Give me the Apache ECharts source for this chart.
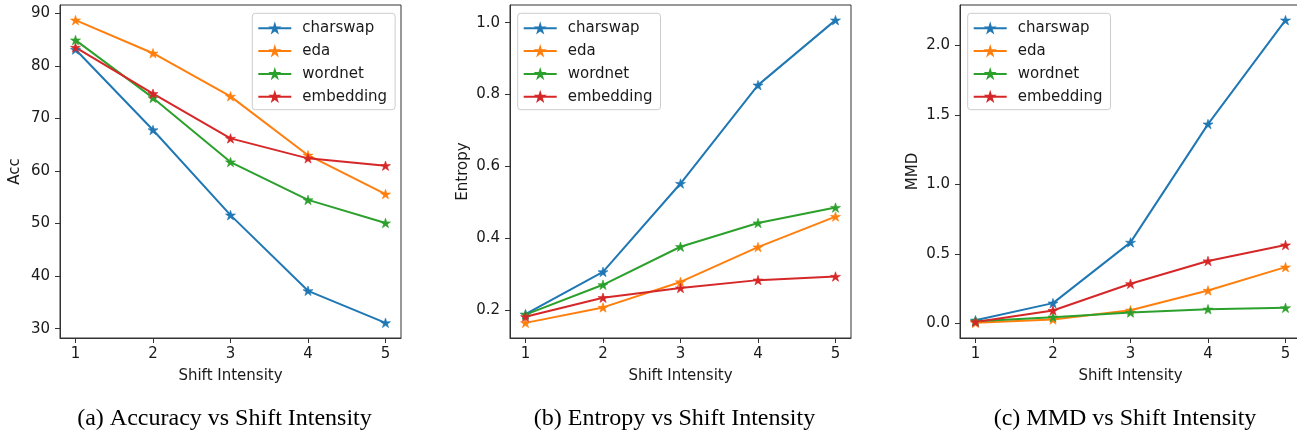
<!DOCTYPE html>
<html>
<head>
<meta charset="utf-8">
<script src="https://cdn.jsdelivr.net/npm/echarts@6/dist/echarts.min.js"></script>
<style>
html,body{margin:0;padding:0;background:#fff;}
#main{width:1297px;height:434px;}
</style>
</head>
<body>
<div id="main"></div>
<script>
// ---- data ----
const shiftIntensity = [1, 2, 3, 4, 5];
const methods = ['charswap', 'eda', 'wordnet', 'embedding'];

const accCharswap  = [83.1, 67.8, 51.6, 37.2, 31.1];
const accEda       = [88.7, 82.4, 74.2, 63.0, 55.6];
const accWordnet   = [84.9, 73.9, 61.7, 54.5, 50.1];
const accEmbedding = [83.5, 74.7, 66.2, 62.4, 61.0];

const entCharswap  = [0.188, 0.306, 0.552, 0.826, 1.007];
const entEda       = [0.164, 0.207, 0.278, 0.375, 0.460];
const entWordnet   = [0.187, 0.270, 0.376, 0.442, 0.485];
const entEmbedding = [0.181, 0.234, 0.261, 0.283, 0.293];

const mmdCharswap  = [0.024, 0.147, 0.584, 1.435, 2.183];
const mmdEda       = [0.005, 0.029, 0.096, 0.238, 0.406];
const mmdWordnet   = [0.017, 0.046, 0.079, 0.103, 0.113];
const mmdEmbedding = [0.012, 0.094, 0.286, 0.450, 0.565];

const xTicks   = [1, 2, 3, 4, 5];
const accTicks = [30, 40, 50, 60, 70, 80, 90];
const entTicks = [0.2, 0.4, 0.6, 0.8, 1.0];
const mmdTicks = [0.0, 0.5, 1.0, 1.5, 2.0];

const yNames   = ['Acc', 'Entropy', 'MMD'];
const captions = ['(a) Accuracy vs Shift Intensity', '(b) Entropy vs Shift Intensity', '(c) MMD vs Shift Intensity'];

// ---- styling / layout ----
const colors = ['#1f77b4', '#ff7f0e', '#2ca02c', '#d62728'];
const FONT = 'DejaVu Sans';
const TXT = '#1a1a1a';
const SPINE = '#333';

const panels = [
  { data: [accCharswap, accEda, accWordnet, accEmbedding], ticks: accTicks, fmt: v => String(Math.round(v)) },
  { data: [entCharswap, entEda, entWordnet, entEmbedding], ticks: entTicks, fmt: v => v.toFixed(1) },
  { data: [mmdCharswap, mmdEda, mmdWordnet, mmdEmbedding], ticks: mmdTicks, fmt: v => v.toFixed(1) }
];
const gridLeft = [60, 510, 960];
const legendLeft = [252.3, 517.7, 967.7];
const nameGaps = [37, 39, 39];
const captionX = [224.5, 674.5, 1125];

// matplotlib-like 5 point star marker path
function starPath() {
  let d = '';
  for (let i = 0; i < 10; i++) {
    const a = (-90 + i * 36) * Math.PI / 180;
    const r = (i % 2 === 0) ? 1 : 0.381966;
    const x = (r * Math.cos(a)).toFixed(4), y = (r * Math.sin(a)).toFixed(4);
    d += (i === 0 ? 'M' : 'L') + x + ' ' + y + ' ';
  }
  return 'path://' + d + 'Z';
}
const STAR = starPath();

// padded axis range like matplotlib (5% margins)
function padRange(arrs) {
  const all = [].concat(...arrs);
  const mn = Math.min(...all), mx = Math.max(...all);
  const m = (mx - mn) * 0.05;
  return [mn - m, mx + m];
}

const grids = [], xAxes = [], yAxes = [], series = [], legends = [], graphics = [];
panels.forEach((p, gi) => {
  grids.push({ left: gridLeft[gi], top: 5, width: 341, height: 333, show: true,
    borderColor: SPINE, borderWidth: 1, backgroundColor: 'transparent', containLabel: false,
    outerBoundsMode: 'none' });
  const xr = [shiftIntensity[0] - 0.2, shiftIntensity[shiftIntensity.length - 1] + 0.2];
  xAxes.push({
    gridIndex: gi, type: 'value', min: xr[0], max: xr[1],
    axisLine: { show: true, onZero: false, lineStyle: { color: SPINE, width: 1 } },
    axisTick: { show: true, customValues: xTicks, length: 5, lineStyle: { color: SPINE, width: 1 } },
    axisLabel: { customValues: xTicks, margin: 9, fontSize: 15, fontFamily: FONT, color: TXT,
      formatter: v => String(v) },
    splitLine: { show: false },
    name: 'Shift Intensity', nameLocation: 'middle', nameGap: 31,
    nameTextStyle: { fontSize: 15, fontFamily: FONT, color: TXT }
  });
  const yr = padRange(p.data);
  yAxes.push({
    gridIndex: gi, type: 'value', min: yr[0], max: yr[1],
    axisLine: { show: true, onZero: false, lineStyle: { color: SPINE, width: 1 } },
    axisTick: { show: true, customValues: p.ticks, length: 5, lineStyle: { color: SPINE, width: 1 } },
    axisLabel: { customValues: p.ticks, margin: 10, fontSize: 15, fontFamily: FONT, color: TXT,
      formatter: p.fmt },
    splitLine: { show: false },
    name: yNames[gi], nameLocation: 'middle', nameGap: nameGaps[gi],
    nameTextStyle: { fontSize: 15, fontFamily: FONT, color: TXT }
  });
  p.data.forEach((vals, si) => {
    series.push({
      name: methods[si], type: 'line', xAxisIndex: gi, yAxisIndex: gi,
      data: shiftIntensity.map((x, k) => [x, vals[k]]),
      symbol: STAR, symbolSize: 10, symbolKeepAspect: true, showSymbol: true,
      lineStyle: { color: colors[si], width: 2 },
      itemStyle: { color: colors[si], borderColor: colors[si], borderWidth: 0.6 },
      animation: false, silent: true
    });
  });
  legends.push({
    data: methods, orient: 'vertical', left: legendLeft[gi], top: 13.3,
    itemWidth: 33, itemHeight: 9, itemGap: 7.8,
    padding: [7.5, 8, 5.5, 5],
    backgroundColor: 'rgba(255,255,255,0.8)', borderColor: '#cccccc', borderWidth: 1, borderRadius: 3,
    textStyle: { fontSize: 15, fontFamily: FONT, color: TXT, padding: [0, 0, 0, 6], lineHeight: 15 },
    selectedMode: false
  });
  graphics.push({
    type: 'text', x: captionX[gi], y: 418.5,
    style: { text: captions[gi], fontSize: 24, fontFamily: 'Liberation Serif', fill: '#000',
      align: 'center', verticalAlign: 'middle' }
  });
});

const chart = echarts.init(document.getElementById('main'), null, { renderer: 'canvas' });
chart.setOption({
  animation: false,
  color: colors,
  grid: grids, xAxis: xAxes, yAxis: yAxes, series: series, legend: legends,
  graphic: graphics
});
</script>
</body>
</html>
